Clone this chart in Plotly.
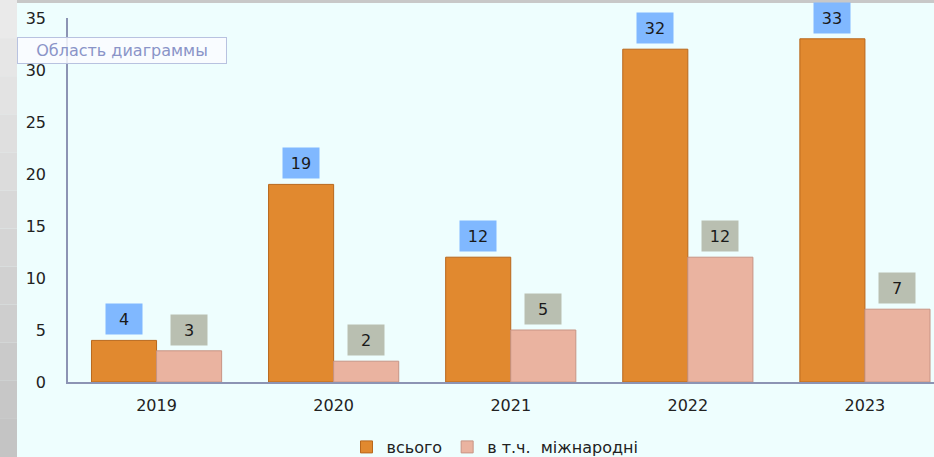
import plotly.graph_objects as go

years = ["2019", "2020", "2021", "2022", "2023"]
total = [4, 19, 12, 32, 33]
intl = [3, 2, 5, 12, 7]
series_names = ["всього", "в т.ч.  міжнародні"]

W, H = 934, 457
ml, mr, mt, mb = 68, 0, 18, 75
pw = W - ml - mr
ph = H - mt - mb
bargap = 0.265
half = (1 - bargap) / 4

xs = list(range(len(years)))

fig = go.Figure()
fig.add_trace(go.Bar(x=xs, y=total, name=series_names[0],
                     marker=dict(color="#E1892F", line=dict(color="#B8671C", width=1))))
fig.add_trace(go.Bar(x=xs, y=intl, name=series_names[1],
                     marker=dict(color="#EAB3A0", line=dict(color="#C79484", width=1))))

for i, v in enumerate(total):
    fig.add_annotation(x=xs[i] - half, y=v, xref="x", yref="y", text=str(v),
                       showarrow=False, yanchor="bottom", yshift=5,
                       bgcolor="#80B8FF", width=34, height=28,
                       font=dict(family="DejaVu Sans", size=16, color="#1a1a1a"))
for i, v in enumerate(intl):
    fig.add_annotation(x=xs[i] + half, y=v, xref="x", yref="y", text=str(v),
                       showarrow=False, yanchor="bottom", yshift=5,
                       bgcolor="#B9BFB1", width=34, height=28,
                       font=dict(family="DejaVu Sans", size=16, color="#1a1a1a"))

# left grey strip
steps = 12
for k in range(steps):
    g = int(0xEA - (0xEA - 0xC4) * k / (steps - 1))
    col = f"rgb({g},{g},{g})"
    fig.add_shape(type="rect", xref="paper", yref="paper",
                  x0=-ml / pw, x1=-(ml - 17) / pw,
                  y0=1 + mt / ph - (k + 1) * (H / steps) / ph,
                  y1=1 + mt / ph - k * (H / steps) / ph,
                  line=dict(width=0), fillcolor=col, layer="below")
fig.add_shape(type="rect", xref="paper", yref="paper",
              x0=-(ml - 17) / pw, x1=1, y0=1 + (mt - 3) / ph, y1=1 + mt / ph,
              line=dict(width=0), fillcolor="#C8C8C8", layer="below")

fig.add_annotation(xref="paper", yref="paper", x=-(ml - 17) / pw, y=(ph - (37 - mt)) / ph,
                   xanchor="left", yanchor="top", text="Область диаграммы",
                   showarrow=False, bgcolor="rgba(250,252,255,0.85)",
                   bordercolor="#B8C2E0", borderwidth=1, width=206, height=23,
                   font=dict(family="DejaVu Sans", size=16, color="#8A94C8"))

fig.update_layout(
    width=W, height=H,
    margin=dict(l=ml, r=mr, t=mt, b=mb, autoexpand=False),
    paper_bgcolor="#EEFEFE", plot_bgcolor="#EEFEFE",
    barmode="group", bargap=bargap, bargroupgap=0,
    font=dict(family="DejaVu Sans", size=16, color="#222"),
    xaxis=dict(tickvals=xs, ticktext=years, range=[-0.5, 4.39],
               showgrid=False, zeroline=False, showline=True,
               linecolor="#8C94B4", linewidth=1.5, ticks="",
               tickfont=dict(size=16, color="#222"), ticklabelstandoff=8),
    yaxis=dict(range=[0, 35], dtick=5, showgrid=False, zeroline=False,
               showline=True, linecolor="#8C94B4", linewidth=1.5, ticks="",
               tickfont=dict(size=16, color="#222"), ticklabelstandoff=17),
    legend=dict(orientation="h", x=(495 - ml) / pw, xanchor="center",
                y=-65 / ph, yanchor="middle",
                font=dict(size=16, color="#222"), bgcolor="rgba(0,0,0,0)",
                itemwidth=30, traceorder="normal"),
    showlegend=True,
)

fig.write_html("out.html", config={"displayModeBar": False},
               post_script="document.body.style.margin='0';document.body.style.overflow='hidden';")
